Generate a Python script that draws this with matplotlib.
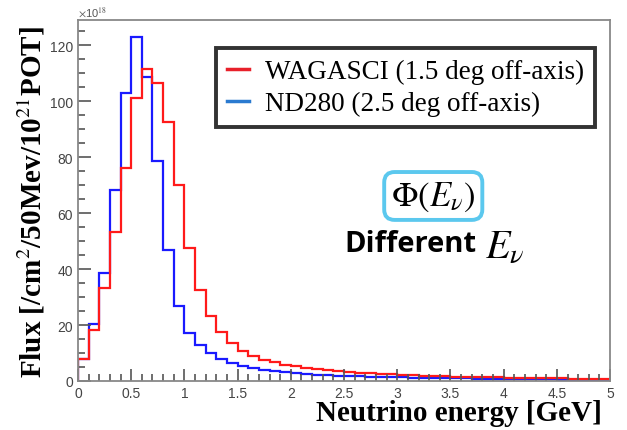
import numpy as np
import matplotlib
matplotlib.use("Agg")
import matplotlib.pyplot as plt
from matplotlib.lines import Line2D

# bin edges in GeV (0.1 GeV bins)
bin_edges = np.round(np.arange(0, 5.01, 0.1), 2)

# flux, units of 1e18 /cm2/50MeV/1e21 POT
wagasci = [7.9, 18.3, 33.4, 53.4, 76.3, 101, 111.7, 106.7, 92.7, 70,
           47.7, 32.6, 23.3, 17.4, 13.5, 10.8, 9.0, 7.6, 6.7, 5.8,
           5.2, 4.6, 4.2, 3.9, 3.6, 3.3, 3.0, 2.8, 2.6, 2.4,
           2.2, 2.05, 1.9, 1.8, 1.7, 1.6, 1.5, 1.4, 1.3, 1.25,
           1.2, 1.1, 1.05, 1.0, 0.95, 0.9, 0.85, 0.8, 0.75, 0.7]
nd280 = [8, 20.5, 38.5, 68.2, 103, 123, 108.8, 78.7, 46.9, 26.7,
         17, 13, 9.9, 7.9, 6.4, 5.2, 4.5, 3.9, 3.4, 3.1,
         2.8, 2.5, 2.3, 2.1, 1.9, 1.8, 1.7, 1.6, 1.5, 1.4,
         1.3, 1.2, 1.1, 1.05, 1.0, 0.95, 0.9, 0.85, 0.8, 0.75,
         0.7, 0.65, 0.6, 0.58, 0.55, 0.5, 0.47, 0.45, 0.42, 0.4]

labels = ["WAGASCI (1.5 deg off-axis)", "ND280 (2.5 deg off-axis)"]
xticks = [0, 0.5, 1, 1.5, 2, 2.5, 3, 3.5, 4, 4.5, 5]
xticklabels = ["0", "0.5", "1", "1.5", "2", "2.5", "3", "3.5", "4", "4.5", "5"]

plt.rcParams['mathtext.fontset'] = 'stix'

fig = plt.figure(figsize=(6.27, 4.31), dpi=100)
ax = fig.add_axes([0.1244, 0.1137, 0.8486, 0.8373])

ax.stairs(nd280, bin_edges, color='#1a1aff', lw=1.6)
ax.stairs(wagasci, bin_edges, color='#ff1a1a', lw=1.6)

ax.set_xlim(0, 5)
ax.set_ylim(0, 129)
ax.set_xticks(xticks)
ax.set_xticklabels(xticklabels)
ax.set_xticks(np.arange(0, 5.01, 0.1), minor=True)
ax.set_yticks([0, 20, 40, 60, 80, 100, 120])
ax.set_yticks(np.arange(0, 129, 5), minor=True)
ax.tick_params(which='both', direction='in', color='#555555', width=1.2,
               labelsize=10, labelcolor='#444444')
ax.tick_params(which='major', length=9)
ax.tick_params(which='minor', length=5)
for lab in ax.get_xticklabels() + ax.get_yticklabels():
    lab.set_family('Liberation Sans')
for s in ax.spines.values():
    s.set_color('#888888')
    s.set_linewidth(1.3)

ax.text(0.0, 1.005, r'$\times$10$^{18}$', transform=ax.transAxes, fontsize=8,
        color='#555555', family='Liberation Sans', va='bottom', ha='left')

ax.set_ylabel(r'Flux [/cm$^2$/50Mev/10$^{21}$POT]', family='Liberation Serif',
              fontweight='bold', fontsize=21, labelpad=2)
ax.set_xlabel('Neutrino energy [GeV]', family='Liberation Serif',
              fontweight='bold', fontsize=21, labelpad=2)
ax.xaxis.set_label_coords(0.985, -0.05)
ax.xaxis.label.set_ha('right')
ax.xaxis.label.set_va('top')

handles = [Line2D([], [], color='#e8202a', lw=2.5),
           Line2D([], [], color='#2a7ad0', lw=2.5)]
leg = ax.legend(handles, labels, loc='upper right', bbox_to_anchor=(0.972, 0.922),
                borderaxespad=0,
                prop={'family': 'Liberation Serif', 'size': 19.5}, fancybox=False,
                handlelength=0.8, handletextpad=0.6, borderpad=0.4,
                labelspacing=0.25)
leg.get_frame().set_edgecolor('black')
leg.get_frame().set_linewidth(2.8)

fig.text(0.691, 0.543, r'$\Phi(E_\nu)$', fontsize=25, ha='center', va='center',
         bbox=dict(boxstyle='round,pad=0.2,rounding_size=0.3', fc='white',
                   ec='#5bc8ee', lw=2.8))
fig.text(0.654, 0.432, 'Different', family='Open Sans', fontweight='bold',
         fontsize=21, ha='center', va='center')
fig.text(0.805, 0.428, r'$E_\nu$', fontsize=29, ha='center', va='center')

fig.savefig('out.png', dpi=100)
